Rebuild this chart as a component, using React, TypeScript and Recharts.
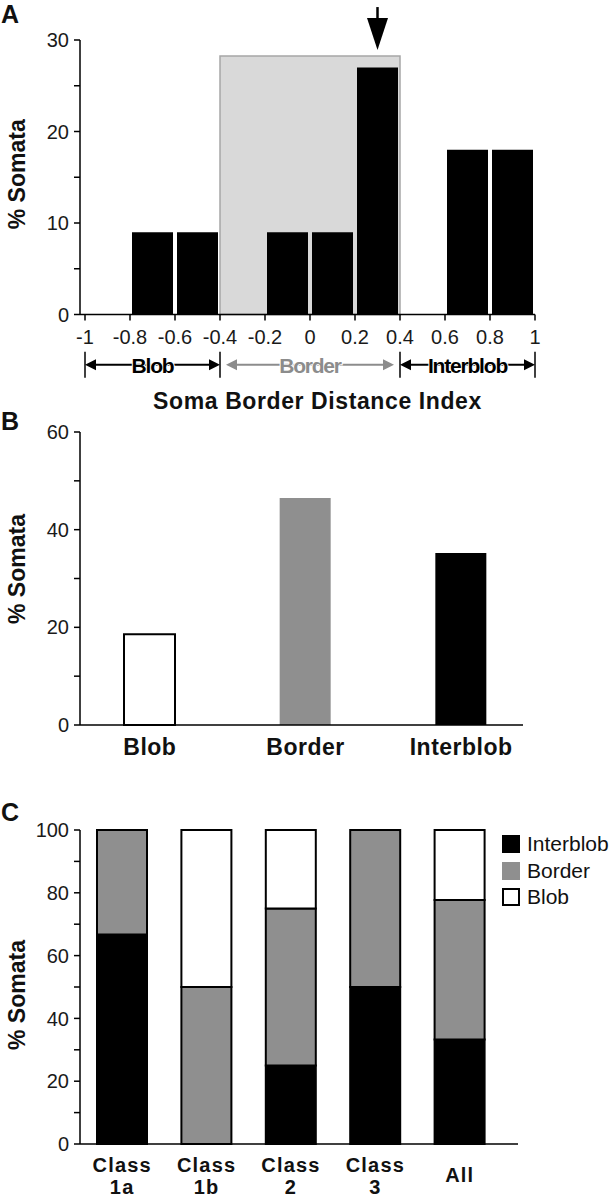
import React from 'react';
import { BarChart, Bar, Cell, XAxis, YAxis, ReferenceArea, ReferenceDot, ReferenceLine, Legend } from 'recharts';

const FONT = '"Liberation Sans", Arial, Helvetica, sans-serif';

// Panel A: histogram of soma border distance index (bins of 0.2, by bin centre)
const binMid = [-0.9, -0.7, -0.5, -0.3, -0.1, 0.1, 0.3, 0.5, 0.7, 0.9];
const binPercent = [0, 9, 9, 0, 9, 9, 27, 0, 18, 18];
const indexTicks = [-1, -0.8, -0.6, -0.4, -0.2, 0, 0.2, 0.4, 0.6, 0.8, 1];
const yTicksA = [0, 5, 10, 15, 20, 25, 30];
const borderZone = [-0.4, 0.4];
const borderZoneTop = 28.25;
const arrowX = 0.3;
const arrowTip = 28.9;
const bracketY = -5.5;
const zoneEdges = [-1, -0.4, 0.4, 1];

// Panel B: share of somata per zone
const zones = ['Blob', 'Border', 'Interblob'];
const zonePercent = [18.6, 46.5, 35.2];
const zoneFill = ['#ffffff', '#8f8f8f', '#000000'];
const yTicksB = [0, 10, 20, 30, 40, 50, 60];

// Panel C: zone share per cell class
const classes = ['Class 1a', 'Class 1b', 'Class 2', 'Class 3', 'All'];
const interblobPct = [66.7, 0, 25, 50, 33.3];
const borderPct = [33.3, 50, 50, 50, 44.4];
const blobPct = [0, 50, 25, 0, 22.3];
const yTicksC = [0, 10, 20, 30, 40, 50, 60, 70, 80, 90, 100];

const histData = binMid.map((mid, i) => ({ mid, pct: binPercent[i] }));
const zoneData = zones.map((zone, i) => ({ zone, pct: zonePercent[i] }));
const classData = classes.map((name, i) => ({
  name,
  Interblob: interblobPct[i],
  Border: borderPct[i],
  Blob: blobPct[i],
}));

// stack order bottom -> top; the legend lists them in this order top -> bottom
const stackSeries = [
  { key: 'Interblob', fill: '#000000' },
  { key: 'Border', fill: '#8f8f8f' },
  { key: 'Blob', fill: '#ffffff' },
];

const axisStroke = { stroke: '#000', strokeWidth: 1.5 };
const numTick = { fill: '#1a1a1a', fontSize: 20, fontFamily: FONT };
const boldTick = { fill: '#111', fontSize: 23, fontFamily: FONT, fontWeight: 'bold', letterSpacing: 0.5 };

const YTitle = (props: any) => {
  const vb = props.viewBox || { x: 0, y: 0, height: 0 };
  const cx = vb.x + 25;
  const cy = vb.y + vb.height / 2 + (props.shift || 0);
  return (
    <text x={cx} y={cy} transform={`rotate(-90 ${cx} ${cy})`} textAnchor="middle"
      fontFamily={FONT} fontSize={23} fontWeight="bold" fill="#111">% Somata</text>
  );
};

const XTitle = (props: any) => {
  const vb = props.viewBox || { x: 0, y: 0, width: 0 };
  return (
    <text x={vb.x + vb.width / 2 + 10} y={vb.y + 94} textAnchor="middle"
      fontFamily={FONT} fontSize={23} fontWeight="bold" letterSpacing={0.6} fill="#111">
      Soma Border Distance Index
    </text>
  );
};

const ArrowDown = (props: any) => {
  const { cx, cy } = props;
  return (
    <g>
      <line x1={cx} x2={cx} y1={cy - 43} y2={cy - 30} stroke="#000" strokeWidth={2.5} />
      <polygon points={`${cx - 10.5},${cy - 32} ${cx + 10.5},${cy - 32} ${cx},${cy}`} fill="#000" />
    </g>
  );
};

const makeBracket = (text: string, color: string, ends: boolean, inset: number) => (props: any) => {
  const { x1, x2, y1 } = props;
  const y = y1;
  const l = x1 + inset;
  const r = x2 - inset;
  return (
    <g>
      {ends && <line x1={x1} x2={x1} y1={y - 13} y2={y + 13} stroke={color} strokeWidth={1.5} />}
      {ends && <line x1={x2} x2={x2} y1={y - 13} y2={y + 13} stroke={color} strokeWidth={1.5} />}
      <line x1={l + 8} x2={r - 8} y1={y} y2={y} stroke={color} strokeWidth={2} />
      <polygon points={`${l},${y} ${l + 11},${y - 5.5} ${l + 11},${y + 5.5}`} fill={color} />
      <polygon points={`${r},${y} ${r - 11},${y - 5.5} ${r - 11},${y + 5.5}`} fill={color} />
      <text x={(x1 + x2) / 2} y={y + 8} textAnchor="middle" fontFamily={FONT} fontSize={21}
        fontWeight="bold" letterSpacing={-1.2} fill={color} stroke="#fff" strokeWidth={2}
        paintOrder="stroke">{text}</text>
    </g>
  );
};

const ClassTick = (props: any) => {
  const { x, y, payload } = props;
  const s = String(payload.value);
  const sp = s.indexOf(' ');
  const lines = sp < 0 ? [s] : [s.slice(0, sp), s.slice(sp + 1)];
  return (
    <text x={x} y={y} textAnchor="middle" fontFamily={FONT} fontSize={20} fontWeight="bold"
      letterSpacing={1.2} fill="#111">
      {lines.length === 1
        ? <tspan x={x} dy={30}>{lines[0]}</tspan>
        : lines.map((ln, k) => <tspan key={k} x={x} dy={k === 0 ? 20 : 22}>{ln}</tspan>)}
    </text>
  );
};

const ZoneLegend = () => (
  <div style={{ fontFamily: FONT, fontSize: 21, color: '#111' }}>
    {stackSeries.map((s) => (
      <div key={s.key} style={{ display: 'flex', alignItems: 'center', height: 26.5 }}>
        <div style={{
          width: s.key === 'Blob' ? 14 : 18, height: s.key === 'Blob' ? 14 : 18, background: s.fill,
          border: s.key === 'Blob' ? '2px solid #000' : 'none', marginRight: 7,
        }} />
        <span>{s.key}</span>
      </div>
    ))}
  </div>
);

const panelLetter = (letter: string, top: number) => (
  <div style={{
    position: 'absolute', left: 1, top, fontFamily: FONT, fontSize: 25, fontWeight: 'bold',
    lineHeight: '25px', color: '#111',
  }}>{letter}</div>
);

const App = () => {
  return (
    <div style={{ position: 'absolute', left: 0, top: 0, width: 610, height: 1199, background: '#fff' }}>
      <div style={{ position: 'absolute', left: 0, top: 0 }}>
        <BarChart width={610} height={416} data={histData} barCategoryGap={2}
          margin={{ top: 40, right: 75, bottom: 71.5, left: 0 }}>
          <ReferenceArea x1={borderZone[0]} x2={borderZone[1]} y1={0} y2={borderZoneTop}
            fill="#d9d9d9" fillOpacity={1} stroke="#a6a6a6" strokeWidth={1.5} ifOverflow="visible" />
          <Bar dataKey="pct" fill="#000" isAnimationActive={false} />
          <ReferenceDot x={arrowX} y={arrowTip} ifOverflow="visible" shape={ArrowDown} />
          <ReferenceLine ifOverflow="visible"
            segment={[{ x: zoneEdges[0], y: bracketY }, { x: zoneEdges[1], y: bracketY }]}
            shape={makeBracket('Blob', '#000', true, 0)} />
          <ReferenceLine ifOverflow="visible"
            segment={[{ x: zoneEdges[1], y: bracketY }, { x: zoneEdges[2], y: bracketY }]}
            shape={makeBracket('Border', '#8c8c8c', false, 6)} />
          <ReferenceLine ifOverflow="visible"
            segment={[{ x: zoneEdges[2], y: bracketY }, { x: zoneEdges[3], y: bracketY }]}
            shape={makeBracket('Interblob', '#000', true, 0)} />
          <XAxis dataKey="mid" type="number" domain={[-1, 1]} ticks={indexTicks} interval={0}
            padding={{ left: 5, right: 0 }} height={30} tickSize={6} tickMargin={9}
            axisLine={axisStroke} tickLine={axisStroke} tick={numTick} label={<XTitle />} />
          <YAxis domain={[0, 30]} ticks={yTicksA} interval={0} width={80} tickSize={6} tickMargin={5}
            axisLine={axisStroke} tickLine={axisStroke} tick={numTick}
            tickFormatter={(v: number) => (v % 10 === 0 ? String(v) : '')} label={<YTitle shift={-3} />} />
        </BarChart>
      </div>

      <div style={{ position: 'absolute', left: 0, top: 400 }}>
        <BarChart width={610} height={380} data={zoneData}
          margin={{ top: 32, right: 87, bottom: 25, left: 0 }}>
          <Bar dataKey="pct" barSize={51} isAnimationActive={false}>
            {zoneData.map((d, i) => (
              <Cell key={d.zone} fill={zoneFill[i]} stroke={i === 0 ? '#000' : 'none'} strokeWidth={2} />
            ))}
          </Bar>
          <XAxis dataKey="zone" padding={{ left: -8, right: -16 }} height={30} tickLine={false}
            tickSize={0} tickMargin={14} axisLine={axisStroke} tick={boldTick} interval={0} />
          <YAxis domain={[0, 60]} ticks={yTicksB} interval={0} width={80} tickSize={6} tickMargin={5}
            axisLine={axisStroke} tickLine={axisStroke} tick={numTick}
            tickFormatter={(v: number) => (v % 20 === 0 ? String(v) : '')} label={<YTitle shift={-9.5} />} />
        </BarChart>
      </div>

      <div style={{ position: 'absolute', left: 0, top: 780 }}>
        <BarChart width={610} height={419} data={classData}
          margin={{ top: 50, right: 92, bottom: 5, left: 0 }}>
          {stackSeries.map((s) => (
            <Bar key={s.key} dataKey={s.key} stackId="zone" fill={s.fill} stroke="#000" strokeWidth={2}
              barSize={50} isAnimationActive={false} />
          ))}
          <XAxis dataKey="name" padding={{ left: 0, right: 16 }} height={50} tickLine={false}
            tickSize={0} tickMargin={8} axisLine={axisStroke} tick={<ClassTick />} interval={0} />
          <YAxis domain={[0, 100]} ticks={yTicksC} interval={0} width={80} tickSize={6} tickMargin={5}
            axisLine={axisStroke} tickLine={axisStroke} tick={numTick}
            tickFormatter={(v: number) => (v % 20 === 0 ? String(v) : '')} label={<YTitle shift={8} />} />
          <Legend layout="vertical" align="center" verticalAlign="middle"
            wrapperStyle={{ left: 502, top: 51, width: 108 }} content={<ZoneLegend />} />
        </BarChart>
      </div>

      {panelLetter('A', 2)}
      {panelLetter('B', 409)}
      {panelLetter('C', 800)}
    </div>
  );
};

export default App;
